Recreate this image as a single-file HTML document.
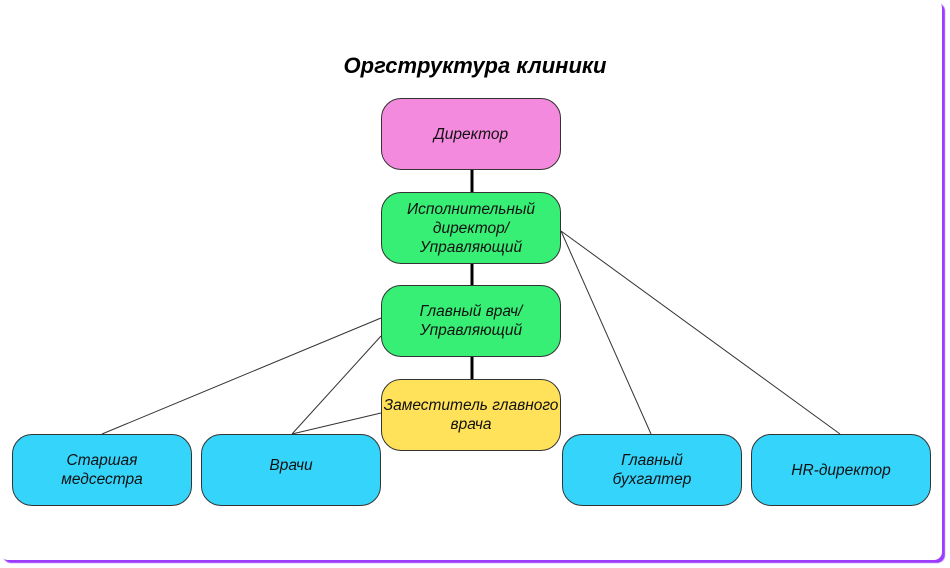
<!DOCTYPE html>
<html><head><meta charset="utf-8"><style>
body{margin:0;width:950px;height:568px;background:#fff;overflow:hidden;font-family:"Liberation Sans","DejaVu Sans",sans-serif;}
.card{position:absolute;left:0;top:0;width:942px;height:560px;background:#fff;border-radius:8px;box-shadow:3px 3px 1px #9b3cff;}
.t{position:absolute;left:0;width:950px;top:53px;text-align:center;font-size:22px;font-weight:bold;font-style:italic;color:#000;}
.b{position:absolute;width:178px;height:70px;border:1px solid #333;border-radius:20px;display:flex;align-items:center;justify-content:center;text-align:center;font-style:italic;font-size:15.5px;line-height:19px;color:#111;}
svg{position:absolute;left:0;top:0;}
</style></head><body>
<div class="card"></div>
<div class="t">Оргструктура клиники</div>
<svg width="950" height="568">
<g stroke="#000" stroke-width="3"><line x1="472" y1="169" x2="472" y2="192"/><line x1="472" y1="263" x2="472" y2="285"/><line x1="472" y1="356" x2="472" y2="379"/></g>
<g stroke="#333" stroke-width="1"><line x1="381" y1="318" x2="102" y2="434"/><line x1="381" y1="336" x2="292" y2="434"/><line x1="381" y1="413" x2="292" y2="434"/><line x1="561" y1="231" x2="651" y2="434"/><line x1="561" y1="231" x2="840" y2="434"/></g>
</svg>
<div class="b" style="left:381px;top:98px;background:#f48ade">Директор</div>
<div class="b" style="left:381px;top:192px;background:#36ef74">Исполнительный<br>директор/<br>Управляющий</div>
<div class="b" style="left:381px;top:285px;background:#36ef74">Главный врач/<br>Управляющий</div>
<div class="b" style="left:381px;top:379px;background:#ffe15a">Заместитель главного<br>врача</div>
<div class="b" style="left:12px;top:434px;background:#34d4fb">Старшая<br>медсестра</div>
<div class="b" style="left:201px;top:434px;background:#34d4fb;padding-bottom:10px;height:60px">Врачи</div>
<div class="b" style="left:562px;top:434px;background:#34d4fb">Главный<br>бухгалтер</div>
<div class="b" style="left:751px;top:434px;background:#34d4fb">HR-директор</div>
</body></html>
